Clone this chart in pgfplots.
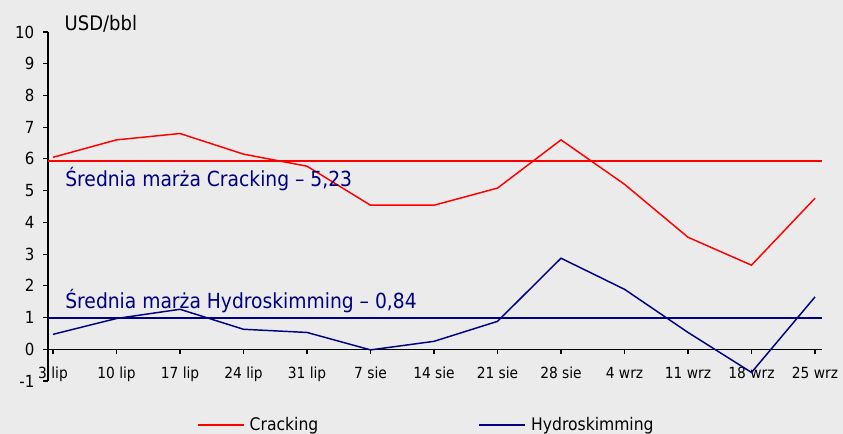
\documentclass[border=0pt]{standalone}
\usepackage{pgfplots}
\pgfplotsset{compat=1.18}
\usepackage{fontspec}
\setmainfont{DejaVu Sans Condensed}
\definecolor{bg}{RGB}{235,235,235}
\definecolor{navy}{RGB}{0,0,128}

\begin{document}
\begin{tikzpicture}
\useasboundingbox (0,0) rectangle (632.25pt,325.5pt);
\clip (0,0) rectangle (632.25pt,325.5pt);
\fill[bg] (0,0) rectangle (632.25pt,325.5pt);
\begin{axis}[
  at={(36pt,39.75pt)}, anchor=south west,
  scale only axis,
  width=580.5pt, height=261.75pt,
  xmin=-0.079, xmax=12.11,
  ymin=-1, ymax=10,
  axis y line*=left,
  axis x line*=middle,
  hide obscured x ticks=false,
  hide obscured y ticks=false,
  tick align=outside,
  major tick length=3.75pt,
  axis line style={black, line width=0.9pt},
  tick style={black, line width=0.8pt},
  xtick={0,...,12},
  xticklabels={3 lip,10 lip,17 lip,24 lip,31 lip,7 sie,14 sie,21 sie,28 sie,4 wrz,11 wrz,18 wrz,25 wrz},
  ytick={-1,0,...,10},
  /pgf/number format/assume math mode=true,
  xticklabel style={yshift=-6.25pt, font=\fontsize{11.5}{13}\selectfont},
  yticklabel style={xshift=-3pt, font=\fontsize{12.5}{14}\selectfont},
  clip=false,
  legend columns=2,
  legend style={draw=none, fill=none, inner sep=0pt,
    at={(0.1925,-0.126)}, anchor=west,
    font=\fontsize{13}{15}\selectfont,
    nodes={inner sep=3.75pt}},
  legend image code/.code={\draw[#1] (0pt,0pt) -- (34.5pt,0pt);},
]
\addplot[red, line width=1.1pt] coordinates {
  (0,6.05) (1,6.6) (2,6.8) (3,6.15) (4,5.77) (5,4.54) (6,4.54)
  (7,5.08) (8,6.6) (9,5.2) (10,3.53) (11,2.65) (12,4.76)};
\addlegendentry{\makebox[168pt][l]{Cracking}}
\addplot[navy, line width=1.1pt] coordinates {
  (0,0.47) (1,0.97) (2,1.26) (3,0.63) (4,0.53) (5,-0.02) (6,0.25)
  (7,0.88) (8,2.87) (9,1.89) (10,0.53) (11,-0.73) (12,1.65)};
\addlegendentry{Hydroskimming}
\addplot[draw=red, line width=1.5pt, forget plot] coordinates {(-0.079,5.93) (12.11,5.93)};
\addplot[draw=navy, line width=1.4pt, forget plot] coordinates {(-0.079,0.98) (12.11,0.98)};
\node[anchor=base west, inner sep=0pt, text=navy, font=\fontsize{15.6}{18}\selectfont]
  at (axis cs:0.19,5.12) {Średnia marża Cracking – 5,23};
\node[anchor=base west, inner sep=0pt, text=navy, font=\fontsize{15.6}{18}\selectfont]
  at (axis cs:0.19,1.30) {Średnia marża Hydroskimming – 0,84};
\node[anchor=base west, inner sep=0pt, font=\fontsize{15}{17}\selectfont]
  at (axis cs:0.18,10.05) {USD/bbl};
\end{axis}
\end{tikzpicture}
\end{document}
